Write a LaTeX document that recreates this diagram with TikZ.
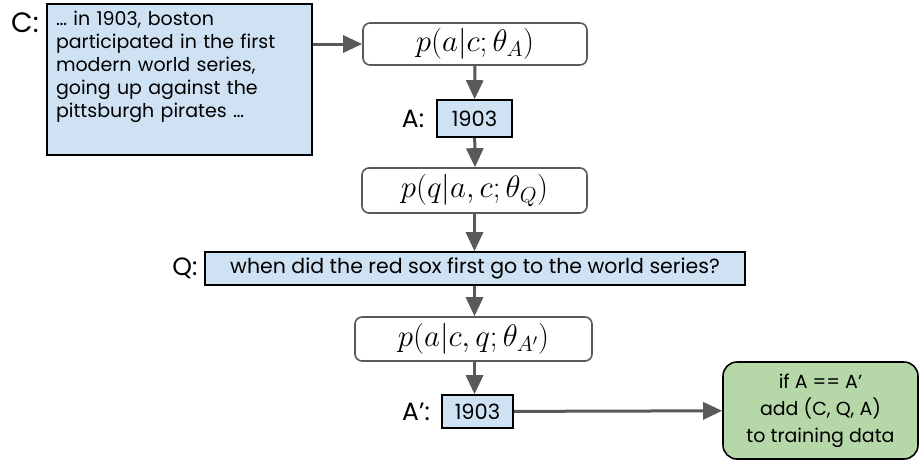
\RequirePackage{fix-cm}
\documentclass[tikz,border=0pt]{standalone}
\usepackage{fontspec}
\setmainfont{Poppins}
\usetikzlibrary{arrows.meta}
\definecolor{boxblue}{HTML}{CFE2F3}
\definecolor{boxgreen}{HTML}{B6D7A8}
\definecolor{flowgray}{HTML}{595959}
\tikzset{
  datum/.style = {rectangle, draw=black, line width=1.6pt, fill=boxblue, inner sep=0, font=\fontsize{19}{23}\selectfont},
  model/.style = {rectangle, rounded corners=7pt, draw=flowgray, line width=1.6pt, fill=white, inner sep=0, font=\fontsize{31}{34}\selectfont},
  check/.style = {rectangle, rounded corners=14pt, draw=black, line width=1.6pt, fill=boxgreen, inner sep=0, align=center, font=\fontsize{19}{27}\selectfont},
  tag/.style   = {font=\fontsize{25}{27}\selectfont},
  flow/.style  = {draw=flowgray, line width=3pt, -{Triangle[length=19pt,width=17pt]}}
}

\begin{document}
\begin{tikzpicture}[x=1pt, y=-1pt]
  \useasboundingbox (0,0) rectangle (923,463);
  % context and first answer model
  \node[datum, minimum width=265pt, minimum height=151pt, text width=247pt, align=left] (C) at (179.5,79.5)
    {\ldots\ in 1903, boston\\ participated in the first\\ modern world series,\\ going up against the\\ pittsburgh pirates \ldots\\[8pt]\mbox{}};
  \node[tag, font=\fontsize{28}{30}\selectfont] (lC) at (25,23) {C:};
  \node[model, minimum width=224pt, minimum height=42pt] (pA) at (475,44) {$p(a|c;\theta_A)$};
  \node[datum, minimum width=75pt, minimum height=37pt, font=\fontsize{21}{23}\selectfont] (A) at (474.5,118.5) {1903};
  \node[tag] (lA) at (413,118.5) {A:};
  % question generation
  \node[model, minimum width=225pt, minimum height=45pt] (pQ) at (474.5,190.5) {$p(q|a,c;\theta_Q)$};
  \node[datum, minimum width=540pt, minimum height=33pt, font=\fontsize{20.5}{23}\selectfont] (Q) at (475,268.5) {when did the red sox first go to the world series?};
  \node[tag] (lQ) at (185,268.5) {Q:};
  % answer again from the question
  \node[model, minimum width=237pt, minimum height=44pt] (pA2) at (473.5,339) {$p(a|c,q;\theta_{A'})$};
  \node[datum, minimum width=71pt, minimum height=33pt, font=\fontsize{21}{23}\selectfont] (A2) at (477.5,411.5) {1903};
  \node[tag] (lA2) at (416,411.5) {A':};
  \node[check, minimum width=195pt, minimum height=97pt] (keep) at (820.5,410.5) {if A == A'\\ add (C, Q, A)\\ to training data};

  \draw[flow] (C.east |- pA.west) -- (pA.west);
  \draw[flow] (pA) -- (A);
  \draw[flow] (A) -- (pA |- pQ.north);
  \draw[flow] (pQ) -- (Q.north -| pQ);
  \draw[flow] (Q.south -| pQ) -- (pA2.north -| pQ);
  \draw[flow] (pA2.south -| pQ) -- (A2.north -| pQ);
  \draw[flow] (A2) -- (keep);
\end{tikzpicture}
\end{document}
